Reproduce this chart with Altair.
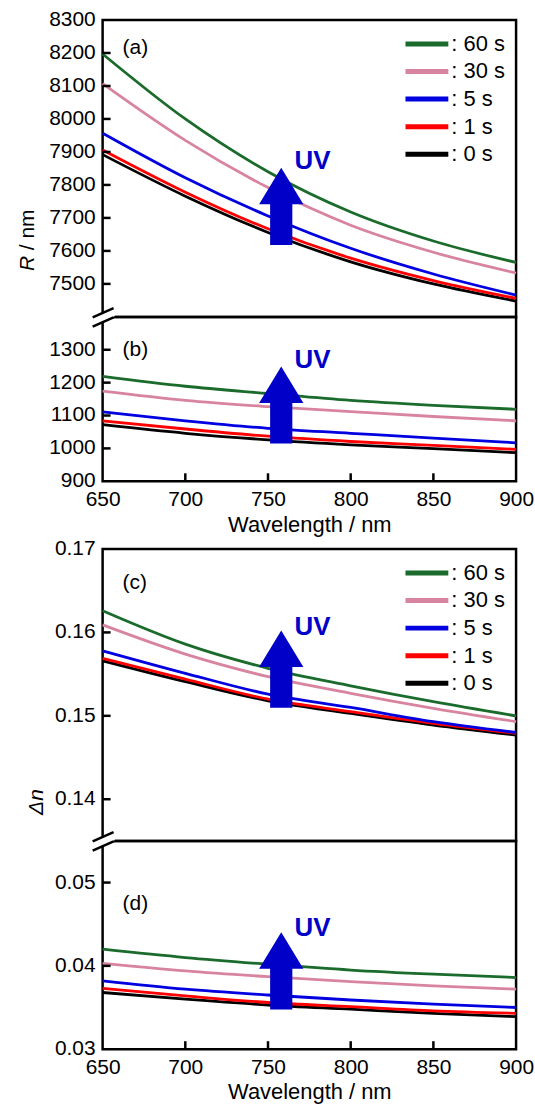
import altair as alt
import pandas as pd

FONT = "Liberation Sans"

# ---------------- data ----------------
wavelength = [650, 700, 750, 800, 850, 900]
series = ["60 s", "30 s", "5 s", "1 s", "0 s"]
colors = ["#1b6b2c", "#d8849e", "#0000e0", "#ff0000", "#000000"]

# (a) retardation, upper branch (nm)
R_a_60 = [8197, 8000, 7840, 7718, 7630, 7565]
R_a_30 = [8107, 7935, 7792, 7678, 7596, 7533]
R_a_5 = [7957, 7822, 7706, 7608, 7530, 7466]
R_a_1 = [7906, 7778, 7667, 7578, 7510, 7456]
R_a_0 = [7892, 7766, 7656, 7567, 7500, 7448]

# (b) retardation, lower branch (nm)
R_b_60 = [1219, 1189, 1167, 1146, 1131, 1119]
R_b_30 = [1174, 1146, 1127, 1112, 1097, 1084]
R_b_5 = [1111, 1084, 1061, 1046, 1031, 1017]
R_b_1 = [1084, 1059, 1037, 1021, 1009, 997]
R_b_0 = [1072, 1046, 1026, 1011, 999, 987]

# (c) birefringence, upper branch
dn_c_60 = [0.1626, 0.1586, 0.1557, 0.1536, 0.1517, 0.1500]
dn_c_30 = [0.1609, 0.1574, 0.1547, 0.1527, 0.1509, 0.1493]
dn_c_5 = [0.1578, 0.1551, 0.1526, 0.1510, 0.1493, 0.1480]
dn_c_1 = [0.1569, 0.1544, 0.1520, 0.1505, 0.1491, 0.1479]
dn_c_0 = [0.1566, 0.1541, 0.1518, 0.1503, 0.1489, 0.1477]

# (d) birefringence, lower branch
dn_d_60 = [0.0420, 0.0410, 0.0402, 0.0395, 0.0390, 0.0386]
dn_d_30 = [0.0403, 0.0394, 0.0387, 0.0381, 0.0376, 0.0372]
dn_d_5 = [0.0382, 0.0372, 0.0365, 0.0359, 0.0354, 0.0350]
dn_d_1 = [0.0373, 0.0364, 0.0356, 0.0351, 0.0346, 0.0343]
dn_d_0 = [0.0368, 0.0360, 0.0353, 0.0348, 0.0343, 0.0339]

x_ticks = [650, 700, 750, 800, 850, 900]
y_labels_a = [7500, 7600, 7700, 7800, 7900, 8000, 8100, 8200, 8300]
y_labels_b = [900, 1000, 1100, 1200, 1300]
y_labels_c = [0.14, 0.15, 0.16, 0.17]
y_labels_d = [0.03, 0.04, 0.05]

# UV arrow annotation (data coordinates)
arrow_wavelength = 758
arrow_center = {"a": 7735, "b": 1132, "c": 0.1556, "d": 0.0394}
uv_wavelength = 766
uv_center = {"a": 7872, "b": 1270, "c": 0.1606, "d": 0.04456}

# ---------------- layout ----------------
W = 415
XT = "Wavelength / nm"
ARROW = ("M0,-1L0.574,-0.052L0.288,-0.052L0.288,1L-0.288,1"
         "L-0.288,-0.052L-0.574,-0.052Z")
ARROW_SIZE = 5990
BLUE = "#0000c8"


def build_df(vals):
    rows = []
    for s in reversed(series):
        for w, v in zip(wavelength, vals[s]):
            rows.append({"wavelength": w, "value": v, "series": s})
    return pd.DataFrame(rows)


def panel(key, vals, domain, height, ylabels, yfmt, show_x, tag, tag_y,
          legend=False, extra=None):
    xs = alt.Scale(domain=[650, 900], nice=False, zero=False)
    ys = alt.Scale(domain=domain, nice=False, zero=False)
    if show_x:
        xaxis = alt.Axis(values=x_ticks, format="d", title=XT,
                         ticks=False, domain=False, grid=False,
                         labelOverlap=False, labelFlush=False,
                         labelPadding=7, labelFontSize=21, labelFont=FONT,
                         labelColor="black", titleFont=FONT, titleFontSize=22,
                         titleFontWeight="normal", titleColor="black",
                         titleY=50, titleBaseline="alphabetic")
    else:
        xaxis = None

    X = alt.X("wavelength:Q", scale=xs, axis=xaxis, title=XT)
    Y = alt.Y("value:Q", scale=ys, axis=None)

    lines = alt.Chart(build_df(vals)).mark_line(
        strokeWidth=2.8, interpolate="monotone").encode(
        x=X, y=Y,
        color=alt.Color("series:N", scale=alt.Scale(domain=series, range=colors),
                        legend=None),
    )
    layers = [lines]

    # inward y ticks
    inner = [t for t in ylabels if domain[0] < t < domain[1]]
    yt = alt.Chart(pd.DataFrame({"value": inner})).mark_rule(
        color="black", strokeWidth=2.5).encode(
        y=alt.Y("value:Q", scale=ys, axis=None),
        x=alt.value(0), x2=alt.value(8))
    layers.append(yt)

    # y tick labels
    lab_df = pd.DataFrame({"value": ylabels,
                           "label": [format(v, yfmt) for v in ylabels]})
    yl = alt.Chart(lab_df).mark_text(
        font=FONT, fontSize=21, color="black", align="right",
        baseline="middle", dx=-7).encode(
        y=alt.Y("value:Q", scale=ys, axis=None),
        x=alt.value(0), text="label:N")
    layers.append(yl)

    if show_x:
        xt = alt.Chart(pd.DataFrame({"wavelength": x_ticks[1:-1]})).mark_rule(
            color="black", strokeWidth=2.5).encode(
            x=alt.X("wavelength:Q", scale=xs, title=XT),
            y=alt.value(height), y2=alt.value(height - 8))
        layers.append(xt)

    arrow = alt.Chart(pd.DataFrame({"wavelength": [arrow_wavelength],
                                    "value": [arrow_center[key]]})).mark_point(
        shape=ARROW, size=ARROW_SIZE, filled=True, color=BLUE, opacity=1,
        strokeWidth=0).encode(
        x=alt.X("wavelength:Q", scale=xs, title=XT),
        y=alt.Y("value:Q", scale=ys, axis=None))
    uv = alt.Chart(pd.DataFrame({"wavelength": [uv_wavelength],
                                 "value": [uv_center[key]]})).mark_text(
        text="UV", font=FONT, fontSize=26, fontWeight="bold", color=BLUE,
        align="left", baseline="middle").encode(
        x=alt.X("wavelength:Q", scale=xs, title=XT),
        y=alt.Y("value:Q", scale=ys, axis=None))
    layers += [arrow, uv]

    lab = alt.Chart(pd.DataFrame({"t": [tag]})).mark_text(
        text=tag, font=FONT, fontSize=21, color="black", align="left",
        baseline="middle").encode(x=alt.value(20), y=alt.value(tag_y))
    layers.append(lab)

    if legend:
        for i, (s, c) in enumerate(zip(series, colors)):
            ly = 24 + i * 27.7
            layers.append(alt.Chart(pd.DataFrame({"s": [s]})).mark_rule(
                color=c, strokeWidth=5).encode(
                x=alt.value(304), x2=alt.value(347), y=alt.value(ly)))
            layers.append(alt.Chart(pd.DataFrame({"s": [s]})).mark_text(
                text=": " + s, font=FONT, fontSize=22, color="black",
                align="left", baseline="middle").encode(
                x=alt.value(350), y=alt.value(ly)))

    if extra:
        layers += extra

    return alt.layer(*layers).properties(width=W, height=height)


def break_marks():
    one = pd.DataFrame({"k": [0]})
    white = alt.Chart(one).mark_rule(color="white", strokeWidth=7,
                                     strokeCap="butt").encode(
        x=alt.value(-10), x2=alt.value(11), y=alt.value(5), y2=alt.value(-4.2))
    up = alt.Chart(one).mark_rule(color="black", strokeWidth=2.5).encode(
        x=alt.value(-10), x2=alt.value(11), y=alt.value(0.4), y2=alt.value(-8.8))
    lo = alt.Chart(one).mark_rule(color="black", strokeWidth=2.5).encode(
        x=alt.value(-10), x2=alt.value(11), y=alt.value(9.8), y2=alt.value(0.4))
    return [white, up, lo]


def rot_text(txt, x, y, align, italic=True, size=21):
    return alt.Chart(pd.DataFrame({"k": [0]})).mark_text(
        text=txt, font=FONT, fontSize=size,
        fontStyle="italic" if italic else "normal", color="black", angle=270,
        align=align, baseline="alphabetic").encode(
        x=alt.value(x), y=alt.value(y))


vals_a = dict(zip(series, [R_a_60, R_a_30, R_a_5, R_a_1, R_a_0]))
vals_b = dict(zip(series, [R_b_60, R_b_30, R_b_5, R_b_1, R_b_0]))
vals_c = dict(zip(series, [dn_c_60, dn_c_30, dn_c_5, dn_c_1, dn_c_0]))
vals_d = dict(zip(series, [dn_d_60, dn_d_30, dn_d_5, dn_d_1, dn_d_0]))

pa = panel("a", vals_a, [7400, 8300], 298, y_labels_a, "d", False, "(a)", 28,
           legend=True,
           extra=[rot_text("R", -69, 252, "left", True),
                  rot_text("/ nm", -69, 231, "left", False)])
pb = panel("b", vals_b, [900, 1400], 165, y_labels_b, "d", True, "(b)", 33,
           extra=break_marks())
pc = panel("c", vals_c, [0.135, 0.17], 293, y_labels_c, ".2f", False, "(c)", 34,
           legend=True, extra=[rot_text("Δn", -60, 254, "center", True)])
pd_ = panel("d", vals_d, [0.03, 0.055], 209, y_labels_d, ".2f", True, "(d)", 63,
            extra=break_marks())

spacer = alt.Chart(pd.DataFrame({"k": [0]})).mark_point(opacity=0).encode(
    x=alt.value(0), y=alt.value(0)).properties(
    width=W, height=68, view=alt.ViewBackground(strokeOpacity=0))

chart = alt.vconcat(pa, pb, spacer, pc, pd_, spacing=0, bounds="flush").resolve_scale(
    x="independent", y="independent", color="independent").properties(
    padding={"left": 15, "top": 5, "right": 0, "bottom": 0},
    background="white",
).configure_view(stroke="black", strokeWidth=2.5)

chart.save("out.html", embed_options={"renderer": "svg", "actions": False})
